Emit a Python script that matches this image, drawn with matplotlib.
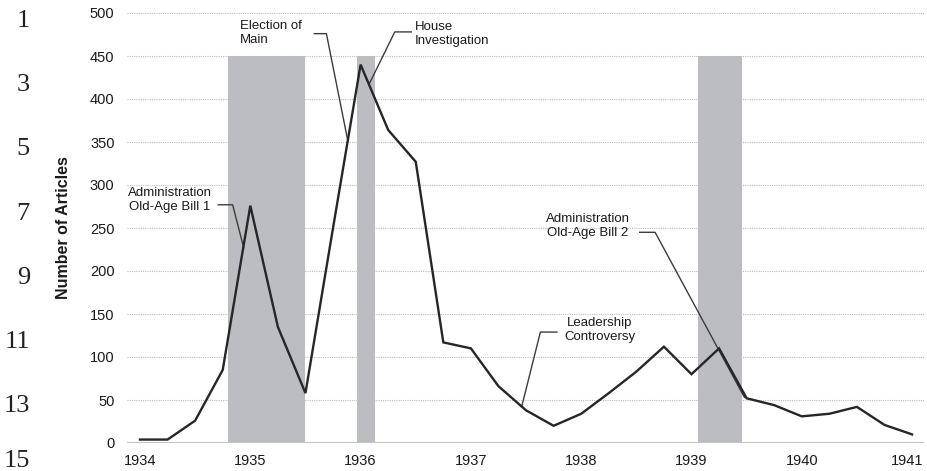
import matplotlib
matplotlib.use("Agg")
import matplotlib.pyplot as plt
import matplotlib.transforms as mtransforms

# ---- data ----
quarters = [1934.00, 1934.25, 1934.50, 1934.75, 1935.00, 1935.25, 1935.50, 1935.75,
            1936.00, 1936.25, 1936.50, 1936.75, 1937.00, 1937.25, 1937.50, 1937.75,
            1938.00, 1938.25, 1938.50, 1938.75, 1939.00, 1939.25, 1939.50, 1939.75,
            1940.00, 1940.25, 1940.50, 1940.75, 1941.00]
articles = [4, 4, 26, 85, 276, 135, 58, 250,
            440, 364, 327, 117, 110, 66, 38, 20,
            34, 58, 83, 112, 80, 110, 52, 44,
            31, 34, 42, 21, 10]
year_ticks = [1934, 1935, 1936, 1937, 1938, 1939, 1940, 1941]
y_ticks = [0, 50, 100, 150, 200, 250, 300, 350, 400, 450, 500]
# shaded periods (start, end) in years, height in articles
shade_periods = [(1934.80, 1935.50), (1935.97, 1936.13), (1939.06, 1939.46)]
shade_top = 450
line_numbers = ["1", "3", "5", "7", "9", "11", "13", "15"]

# annotations: text, text anchor (year, value), ha, elbow start, elbow corner, target
annotations = [
    dict(text="Election of\nMain", xy=(1934.91, 492), ha="left",
         p0=(1935.58, 476), p1=(1935.69, 476), p2=(1935.88, 354)),
    dict(text="House\nInvestigation", xy=(1936.49, 491), ha="left",
         p0=(1936.46, 478), p1=(1936.31, 478), p2=(1936.08, 418)),
    dict(text="Administration\nOld-Age Bill 1", xy=(1934.27, 298), ha="center",
         p0=(1934.71, 277), p1=(1934.84, 277), p2=(1934.94, 227)),
    dict(text="Administration\nOld-Age Bill 2", xy=(1938.06, 267), ha="center",
         p0=(1938.53, 245), p1=(1938.67, 245), p2=(1939.48, 53)),
    dict(text="Leadership\nControversy", xy=(1938.17, 146), ha="center",
         p0=(1937.78, 129), p1=(1937.63, 129), p2=(1937.46, 42)),
]

plt.rcParams["font.family"] = ["Liberation Sans", "DejaVu Sans"]

fig = plt.figure(figsize=(9.28, 4.71), dpi=100)
W, H = 928, 471
ax = fig.add_axes([127 / W, 1 - 443 / H, (924 - 127) / W, (443 - 13) / H])

for s, e in shade_periods:
    ax.fill_between([s, e], 0, shade_top, color="#bcbdc0", lw=0, zorder=0.5)

for yv in y_ticks[1:]:
    ax.axhline(yv, color="#bdbdbd", lw=0.8, ls=(0, (1, 1)), zorder=1)
ax.axhline(0, color="#c4c4c4", lw=2.2, zorder=1.5)

ax.plot(quarters, articles, color="#262626", lw=1.7, zorder=3, solid_joinstyle="miter")

for a in annotations:
    xs = [a["p0"][0], a["p1"][0], a["p2"][0]]
    ys = [a["p0"][1], a["p1"][1], a["p2"][1]]
    ax.plot(xs, ys, color="#3c3c3c", lw=1.0, zorder=2.5, clip_on=False)
    ax.text(a["xy"][0], a["xy"][1], a["text"], ha=a["ha"], va="top",
            fontsize=9.5, color="#1a1a1a", linespacing=1.2, zorder=4)

ax.set_xlim(1934 + (127 - 140) / 110.3, 1934 + (924 - 140) / 110.3)
ax.set_ylim(0, 500)
ax.set_xticks(year_ticks)
ax.set_xticklabels([str(y) for y in year_ticks])
ax.set_yticks(y_ticks)
ax.set_yticklabels([str(v) for v in y_ticks])
ax.tick_params(axis="both", length=0, labelsize=10.5, colors="#1a1a1a")
ax.tick_params(axis="y", pad=9)
ax.tick_params(axis="x", pad=8)
for sp in ax.spines.values():
    sp.set_visible(False)

# nudge the last year label slightly left, as in the reference
last = ax.get_xticklabels()[-1]
last.set_transform(last.get_transform() + mtransforms.ScaledTranslation(-5 / 100, 0, fig.dpi_scale_trans))

ax.set_ylabel("Number of Articles", fontsize=11.5, fontweight="bold", color="#1a1a1a")
ax.yaxis.set_label_coords((71 - 127) / (924 - 127), 0.5)

for i, n in enumerate(line_numbers):
    ypix = min(21 + 64.2 * i, 461)
    fig.text(30 / W, 1 - ypix / H, n, ha="right", va="center",
             fontsize=19, family="Liberation Serif", color="#222222")

fig.savefig("out.png", dpi=100)
